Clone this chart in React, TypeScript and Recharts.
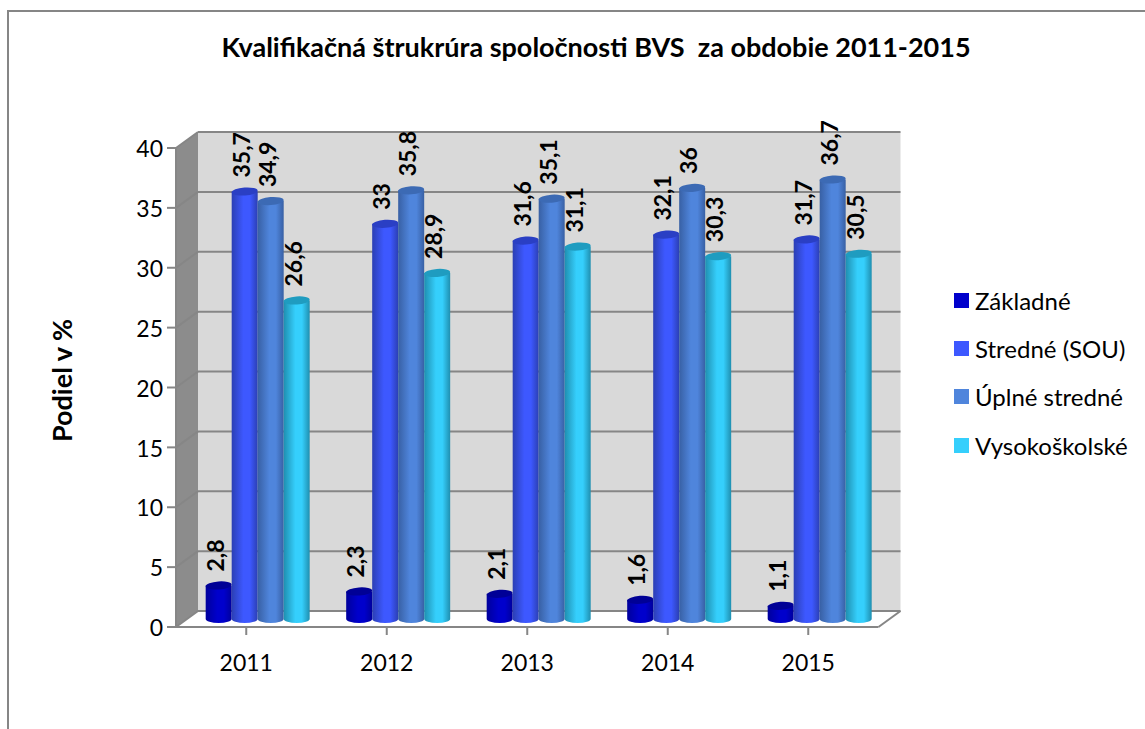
import React from 'react';
import {
  BarChart,
  Bar,
  XAxis,
  YAxis,
  ReferenceArea,
  ReferenceLine,
  LabelList,
  Legend,
} from 'recharts';

const years = ['2011', '2012', '2013', '2014', '2015'];
const zakladne = [2.8, 2.3, 2.1, 1.6, 1.1];
const stredne = [35.7, 33, 31.6, 32.1, 31.7];
const uplne = [34.9, 35.8, 35.1, 36, 36.7];
const vysokoskolske = [26.6, 28.9, 31.1, 30.3, 30.5];
const yTicks = [0, 5, 10, 15, 20, 25, 30, 35, 40];

const data = years.map((year, i) => ({
  year,
  zakladne: zakladne[i],
  stredne: stredne[i],
  uplne: uplne[i],
  vysokoskolske: vysokoskolske[i],
}));

const series = [
  { key: 'zakladne', name: 'Základné', main: '#0000cc', edge: '#00009c', top: '#000096' },
  { key: 'stredne', name: 'Stredné (SOU)', main: '#3d58ff', edge: '#2b3fb4', top: '#2a3fc4' },
  { key: 'uplne', name: 'Úplné stredné', main: '#4f85dc', edge: '#3860a4', top: '#3c6ab4' },
  { key: 'vysokoskolske', name: 'Vysokoškolské', main: '#35cffc', edge: '#1f8fb0', top: '#1f9cc0' },
];

const FONT = 'Lato, sans-serif';
const AXIS_COLOR = '#868686';
// floor depth of the fake 3D box, bars stand in the middle of it
const DEPTH_X = 22;
const DEPTH_Y = 16;

function Walls({ x, y, width, height }: any) {
  const bottom = y + height;
  const right = x + width;
  return (
    <g>
      <rect x={x + DEPTH_X} y={y - DEPTH_Y} width={width} height={height} fill="#d9d9d9" />
      <polygon
        points={`${x},${y} ${x + DEPTH_X},${y - DEPTH_Y} ${x + DEPTH_X},${bottom - DEPTH_Y} ${x},${bottom}`}
        fill="#8c8c8c"
      />
      <polygon
        points={`${x},${bottom} ${x + DEPTH_X},${bottom - DEPTH_Y} ${right + DEPTH_X},${bottom - DEPTH_Y} ${right},${bottom}`}
        fill="#ffffff"
      />
      <line x1={right} y1={bottom} x2={right + DEPTH_X} y2={bottom - DEPTH_Y} stroke={AXIS_COLOR} strokeWidth={2} />
    </g>
  );
}

function GridLine({ x1, y1, x2 }: any) {
  return (
    <g stroke={AXIS_COLOR} strokeWidth={2} fill="none">
      <line x1={x1} y1={y1} x2={x1 + DEPTH_X} y2={y1 - DEPTH_Y} />
      <line x1={x1 + DEPTH_X} y1={y1 - DEPTH_Y} x2={x2 + DEPTH_X} y2={y1 - DEPTH_Y} />
    </g>
  );
}

function Cylinder({ x, y, width, height, seriesIndex }: any) {
  const s = series[seriesIndex];
  const left = x + DEPTH_X / 2;
  const top = y - DEPTH_Y / 2;
  const rx = width / 2;
  const ry = 4;
  const bottom = top + height;
  return (
    <g>
      <path
        d={`M${left},${top} L${left},${bottom} A${rx},${ry} 0 0 0 ${left + width},${bottom} L${left + width},${top} Z`}
        fill={`url(#cyl-${s.key})`}
      />
      <ellipse
        cx={left + rx}
        cy={top}
        rx={rx}
        ry={ry}
        fill={s.top}
        transform={`rotate(-4 ${left + rx} ${top})`}
      />
    </g>
  );
}

function ValueLabel({ x, y, width, value }: any) {
  const cx = x + width / 2 + DEPTH_X / 2;
  const ty = y - DEPTH_Y / 2 - 14;
  const tx = cx + 5;
  return (
    <text
      x={tx}
      y={ty}
      transform={`rotate(-90 ${tx} ${ty})`}
      fontFamily={FONT}
      fontSize={23}
      fontWeight={700}
      fill="#000"
    >
      {String(value).replace('.', ',')}
    </text>
  );
}

function LegendBox() {
  return (
    <div style={{ fontFamily: FONT, fontSize: 24, color: '#000' }}>
      {series.map(s => (
        <div key={s.key} style={{ display: 'flex', alignItems: 'center', height: 48.3 }}>
          <span style={{ width: 15, height: 15, background: s.main, marginRight: 6 }} />
          <span>{s.name}</span>
        </div>
      ))}
    </div>
  );
}

export default function App() {
  return (
    <div style={{ position: 'absolute', left: 0, top: 0, width: 1145, height: 729, overflow: 'hidden', background: '#fff' }}>
      <div
        style={{
          position: 'absolute',
          left: 7,
          top: 10,
          right: -4,
          bottom: -4,
          borderLeft: '2px solid #868686',
          borderTop: '2px solid #868686',
        }}
      />
      <div
        style={{
          position: 'absolute',
          left: 0,
          width: 1192,
          top: 30,
          textAlign: 'center',
          fontFamily: FONT,
          fontSize: 27,
          fontWeight: 700,
          whiteSpace: 'pre',
          color: '#000',
        }}
      >
        Kvalifikačná štrukrúra spoločnosti BVS  za obdobie 2011-2015
      </div>
      <BarChart
        width={1145}
        height={729}
        data={data}
        margin={{ top: 148, right: 76.5, bottom: 48, left: 0 }}
        barGap={0}
        barCategoryGap="13.3%"
        style={{ position: 'absolute', left: 0, top: 0 }}
      >
        <defs>
          {series.map(s => (
            <linearGradient key={s.key} id={`cyl-${s.key}`} x1="0" y1="0" x2="1" y2="0">
              <stop offset="0%" stopColor={s.edge} />
              <stop offset="45%" stopColor={s.main} />
              <stop offset="70%" stopColor={s.main} />
              <stop offset="100%" stopColor={s.edge} />
            </linearGradient>
          ))}
        </defs>
        <ReferenceArea y1={0} y2={40} shape={<Walls />} ifOverflow="visible" zIndex={100} />
        {yTicks.map(v => (
          <ReferenceLine key={v} y={v} shape={<GridLine />} ifOverflow="visible" zIndex={110} />
        ))}
        <XAxis
          dataKey="year"
          axisLine={{ stroke: AXIS_COLOR, strokeWidth: 2 }}
          tickLine={{ stroke: AXIS_COLOR, strokeWidth: 2 }}
          tickSize={8}
          tickMargin={20}
          tick={{ fontFamily: FONT, fontSize: 23, fill: '#000' }}
          height={54}
        />
        <YAxis
          domain={[0, 40]}
          ticks={yTicks}
          width={176}
          axisLine={{ stroke: AXIS_COLOR, strokeWidth: 2 }}
          tickLine={{ stroke: AXIS_COLOR, strokeWidth: 2 }}
          tickSize={9}
          tickMargin={4}
          tick={{ fontFamily: FONT, fontSize: 23, fill: '#000', dy: 1 }}
          label={{
            value: 'Podiel v %',
            angle: -90,
            position: 'insideLeft',
            offset: 62,
            dy: -7,
            style: { fontFamily: FONT, fontSize: 27, fontWeight: 700, fill: '#000', textAnchor: 'middle' },
          }}
        />
        <Legend
          layout="vertical"
          align="right"
          verticalAlign="top"
          content={<LegendBox />}
          wrapperStyle={{ left: 954, top: 276, width: 190 }}
        />
        {series.map((s, i) => (
          <Bar
            key={s.key}
            dataKey={s.key}
            name={s.name}
            fill={s.main}
            isAnimationActive={false}
            shape={(props: any) => <Cylinder {...props} seriesIndex={i} />}
          >
            <LabelList dataKey={s.key} content={<ValueLabel />} />
          </Bar>
        ))}
      </BarChart>
    </div>
  );
}
